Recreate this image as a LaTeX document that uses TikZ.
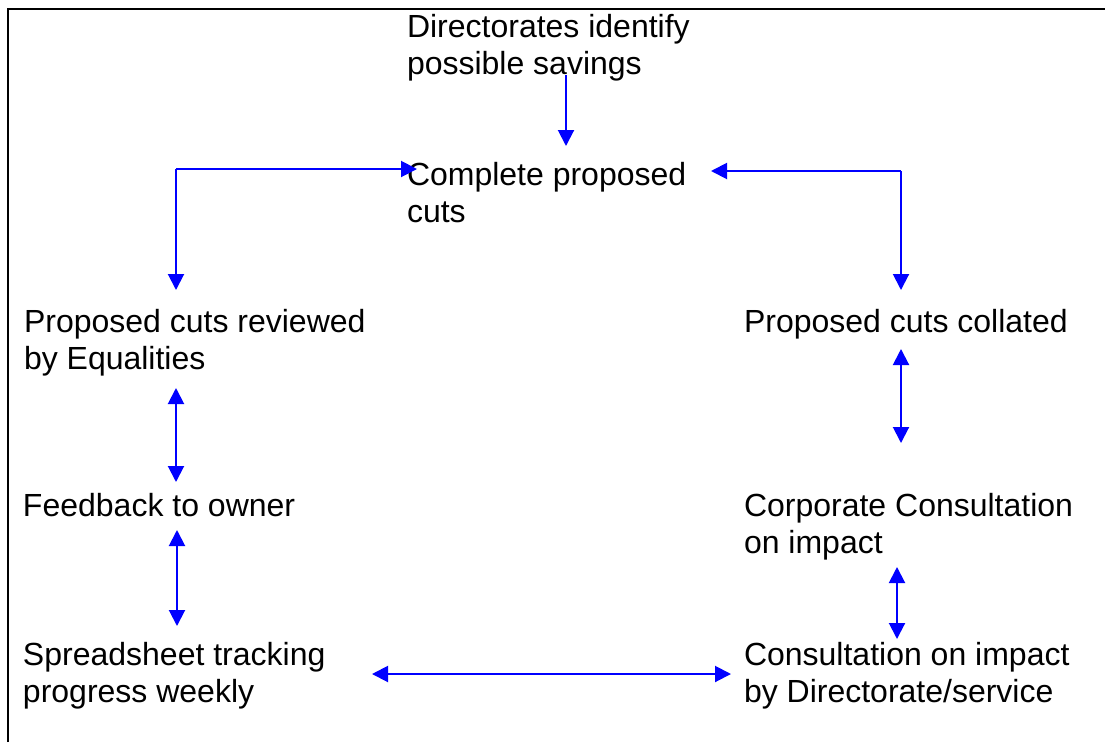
\documentclass[tikz,border=0pt]{standalone}
\usepackage{fontspec}
\setmainfont{Liberation Sans}
\usetikzlibrary{arrows.meta}
\tikzset{
  lbl/.style={anchor=base west, inner sep=0pt, outer sep=0pt, font=\fontsize{32}{37}\selectfont},
  flow/.style={draw=blue, line width=2pt, -{Triangle[length=16pt,width=16pt]}},
  flowboth/.style={draw=blue, line width=2pt, {Triangle[length=16pt,width=16pt]}-{Triangle[length=16pt,width=16pt]}},
  frame/.style={draw=black, line width=2.4pt}
}
\newcommand{\lines}[1]{\begin{tabular}[t]{@{}l@{}}#1\end{tabular}}
\begin{document}
\begin{tikzpicture}[x=1pt, y=-1pt]
\useasboundingbox (0,0) rectangle (1105,742);
\coordinate (fbl) at (8,742);
\coordinate (ftl) at (8,9);
\coordinate (ftr) at (1105,9);
\draw[frame] (fbl) -- (ftl) -- (ftr);

\node[lbl] (dir) at (407,37) {\lines{Directorates identify\\possible savings}};
\node[lbl] (cpc) at (407,185) {\lines{Complete proposed\\cuts}};
\node[lbl] (rev) at (24,332) {\lines{Proposed cuts reviewed\\by Equalities}};
\node[lbl] (col) at (744,332) {\lines{Proposed cuts collated}};
\node[lbl] (fdb) at (23,516) {\lines{Feedback to owner}};
\node[lbl] (cor) at (744,516) {\lines{Corporate Consultation\\on impact}};
\node[lbl] (spr) at (23,665) {\lines{Spreadsheet tracking\\progress weekly}};
\node[lbl] (con) at (744,665) {\lines{Consultation on impact\\by Directorate/service}};

% connector end points
\coordinate (a1s) at (566,75);
\coordinate (a1e) at (566,146);
\coordinate (cl) at (176,169);
\coordinate (clh) at (417,169);
\coordinate (clv) at (176,290);
\coordinate (cr) at (901,171);
\coordinate (crh) at (711,171);
\coordinate (crv) at (901,290);
\coordinate (l1a) at (176,388);
\coordinate (l1b) at (176,482);
\coordinate (l2a) at (177,530);
\coordinate (l2b) at (177,626);
\coordinate (r1a) at (901,349);
\coordinate (r1b) at (901,443);
\coordinate (r2a) at (897,567);
\coordinate (r2b) at (897,639);
\coordinate (ha) at (372,674);
\coordinate (hb) at (731,674);

\draw[flow] (a1s) -- (a1e);
\draw[flow] (cl) -- (clh);
\draw[flow] (cl) -- (clv);
\draw[flow] (cr) -- (crh);
\draw[flow] (cr) -- (crv);
\draw[flowboth] (l1a) -- (l1b);
\draw[flowboth] (l2a) -- (l2b);
\draw[flowboth] (r1a) -- (r1b);
\draw[flowboth] (r2a) -- (r2b);
\draw[flowboth] (ha) -- (hb);
\end{tikzpicture}
\end{document}
